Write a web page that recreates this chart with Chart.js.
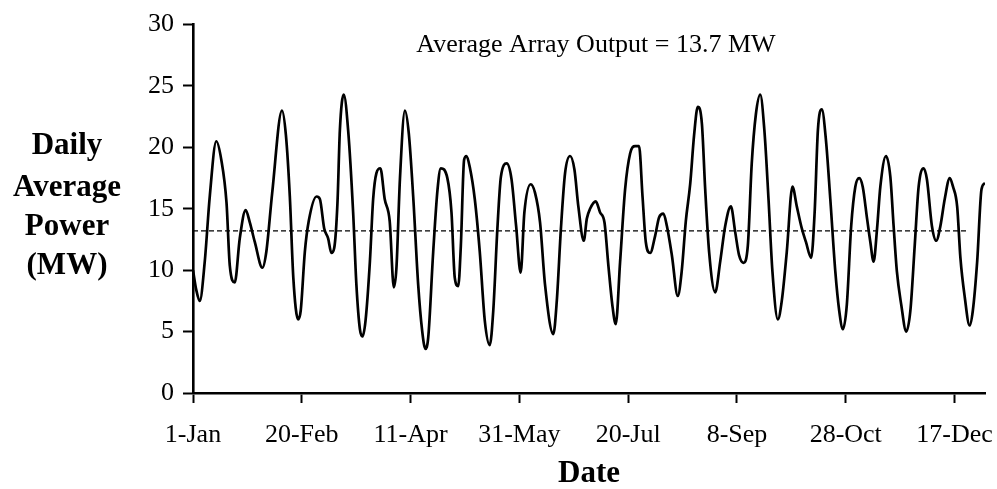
<!DOCTYPE html>
<html>
<head>
<meta charset="utf-8">
<script src="https://cdn.jsdelivr.net/npm/chart.js@4"></script>
<style>
  html, body { margin: 0; padding: 0; background: #fff; }
  #wrap { width: 997px; height: 489px; }
</style>
</head>
<body>
<div id="wrap"><canvas id="powerChart" width="997" height="489"></canvas></div>
<script>
// day of year (0 = 1-Jan)
const days = [
    0, 1.5, 3.1, 5.4, 7.7, 10.7, 13.0, 15.4, 16.9, 19.2, 21.5, 24.2, 26.1, 28.4, 31.9, 33.7,
    36.4, 40.9, 42.7, 44.5, 46.1, 48.3, 49.5, 51.4, 53.2, 56.8, 58.3, 60.3, 62.1, 63.6, 64.9,
    66.4, 67.5, 69.3, 71.3, 73.6, 75.1, 76.7, 77.9, 79.3, 81.3, 82.8, 84.3, 86.1, 88.1, 90.4,
    92.3, 93.5, 95.1, 97.4, 99.2, 101.2, 103.5, 105.3, 106.8, 108.1, 110.4, 112.4, 113.9,
    116.9, 118.8, 120.3, 121.9, 123.1, 124.6, 125.7, 127.2, 129.5, 131.8, 134.1, 136.4,
    138.0, 139.9, 141.5, 144.2, 146.4, 148.5, 150.6, 152.3, 155.2, 157.2, 159.5, 161.8,
    165.6, 167.2, 169.1, 171.0, 173.3, 175.3, 177.1, 179.6, 181.0, 182.5, 185.1, 187.1,
    189.1, 190.9, 192.7, 194.3, 196.3, 198.6, 200.9, 203.2, 205.0, 206.6, 208.1, 210.1,
    212.4, 214.2, 216.2, 217.8, 220.1, 222.8, 224.6, 226.5, 228.5, 230.3, 232.0, 233.9,
    235.4, 237.2, 240.0, 242.3, 244.6, 247.2, 249.2, 251.0, 253.0, 255.0, 256.8, 258.7,
    260.7, 262.6, 264.5, 266.3, 268.8, 270.6, 272.9, 275.5, 277.5, 279.8, 281.7, 284.1,
    285.7, 287.2, 289.0, 290.9, 292.9, 295.2, 297.0, 298.7, 300.5, 302.5, 304.4, 306.2,
    307.8, 309.8, 311.3, 312.8, 314.4, 315.9, 318.5, 320.5, 322.0, 323.5, 325.5, 327.8,
    329.7, 331.7, 333.5, 335.8, 337.3, 339.6, 341.6, 343.5, 345.5, 347.8, 349.3, 351.2,
    352.7, 354.7, 356.9, 358.4, 360.4, 362.4, 364.0
];

// daily average power (MW)
const power = [
    10.0, 8.4, 7.5, 10.7, 16.0, 20.5, 19.0, 15.5, 10.4, 9.0, 12.6, 14.9, 13.9, 12.3, 10.2, 11.5,
    16.3, 23.0, 21.0, 16.0, 9.4, 6.0, 6.7, 11.5, 14.0, 16.0, 15.8, 13.4, 12.6, 11.4, 11.8,
    15.5, 21.4, 24.3, 21.4, 14.7, 8.8, 5.2, 4.6, 5.9, 10.7, 15.8, 17.9, 18.3, 15.8, 14.0,
    8.6, 10.2, 17.4, 23.0, 21.1, 16.0, 8.8, 5.1, 3.6, 4.5, 11.5, 16.6, 18.3,
    17.5, 14.7, 9.4, 8.7, 12.0, 19.0, 19.3, 18.4, 15.8, 11.5, 5.9, 3.9,
    6.7, 13.4, 17.6, 18.7, 17.4, 13.6, 9.8, 14.7, 17.0, 16.3, 13.9, 8.8,
    4.8, 7.5, 13.4, 17.9, 19.3, 18.2, 15.2, 12.4, 14.2, 15.0, 15.6, 14.7,
    13.9, 10.4, 7.2, 5.6, 10.7, 16.6, 19.5, 20.1, 20.1, 16.0, 12.3, 11.4,
    12.8, 14.3, 14.6, 13.6, 11.2, 7.9, 9.9, 14.0, 17.0, 21.0, 23.3, 21.9,
    16.6, 11.5, 8.2, 10.7, 13.6, 15.2, 13.1, 11.2, 10.6, 12.0, 18.7, 22.7,
    24.3, 21.4, 15.8, 9.9, 6.0, 7.5, 11.5, 16.8, 15.2, 13.4, 12.3, 11.0,
    14.7, 21.4, 23.1, 20.6, 15.8, 9.9, 6.7, 5.2, 7.2, 13.6, 16.8, 17.5,
    16.8, 14.2, 12.3, 10.7, 13.4, 16.8, 19.3, 17.6, 13.6, 9.9, 7.2, 5.0,
    6.7, 12.0, 16.8, 18.3, 17.4, 13.6, 12.4, 13.6, 15.8, 17.5, 16.8, 15.2,
    11.0, 7.8, 5.5, 6.7, 10.7, 16.6, 17.1
];

// dashed reference level and where it runs
const averageLevel = 13.2;
const averageSpan = [0, 356];

const xTickLabels = ['1-Jan', '20-Feb', '11-Apr', '31-May', '20-Jul', '8-Sep', '28-Oct', '17-Dec'];
const yTitleLines = ['Daily', 'Average', 'Power', '(MW)'];
const xTitle = 'Date';
const noteText = 'Average Array Output = 13.7 MW';

const serif = '"Liberation Serif", "Times New Roman", serif';

// 축 제목과 주석 텍스트 그리기
const textPlugin = {
    id: 'textPlugin',
    afterDraw(chart) {
        const ctx = chart.ctx;
        ctx.save();
        ctx.fillStyle = '#000';
        ctx.textAlign = 'center';
        ctx.textBaseline = 'middle';

        ctx.font = 'bold 31px ' + serif;
        const yCenters = [146, 188, 227, 266];
        yTitleLines.forEach((line, i) => ctx.fillText(line, 67, yCenters[i]));
        ctx.fillText(xTitle, 589, 474);

        ctx.font = '26px ' + serif;
        ctx.fillText(noteText, 596, 45);
        ctx.restore();
    }
};

const ctx = document.getElementById('powerChart').getContext('2d');
new Chart(ctx, {
    type: 'line',
    data: {
        datasets: [{
            data: days.map((d, i) => ({ x: d, y: power[i] })),
            borderColor: '#000',
            borderWidth: 2.7,
            pointRadius: 0,
            cubicInterpolationMode: 'monotone',
            fill: false
        }, {
            data: averageSpan.map(d => ({ x: d, y: averageLevel })),
            borderColor: '#000',
            borderWidth: 1.2,
            borderDash: [5, 3],
            pointRadius: 0,
            fill: false
        }]
    },
    options: {
        responsive: false,
        animation: false,
        layout: { padding: { left: 0, top: 19, right: 12, bottom: 0 } },
        plugins: {
            legend: { display: false },
            tooltip: { enabled: false }
        },
        scales: {
            x: {
                type: 'linear',
                min: 0,
                max: 364,
                afterFit(scale) {
                    scale.height = 96;
                    scale.paddingLeft = 0;
                    scale.paddingRight = 0;
                },
                afterBuildTicks(scale) {
                    scale.ticks = xTickLabels.map((_, i) => ({ value: i * 50 }));
                },
                ticks: {
                    color: '#000',
                    font: { family: serif, size: 26 },
                    padding: 17,
                    maxRotation: 0,
                    autoSkip: false,
                    callback: (value) => xTickLabels[Math.round(value / 50)]
                },
                grid: {
                    drawOnChartArea: false,
                    drawTicks: true,
                    tickLength: 10,
                    tickWidth: 2,
                    tickColor: '#000'
                },
                border: { display: true, color: '#000', width: 2.6 }
            },
            y: {
                min: 0,
                max: 30,
                afterFit(scale) { scale.width = 193; },
                ticks: {
                    stepSize: 5,
                    color: '#000',
                    font: { family: serif, size: 26 },
                    padding: 9
                },
                grid: {
                    drawOnChartArea: false,
                    drawTicks: true,
                    tickLength: 10,
                    tickWidth: 2,
                    tickColor: '#000'
                },
                border: { display: true, color: '#000', width: 2.6 }
            }
        }
    },
    plugins: [textPlugin]
});
</script>
</body>
</html>
